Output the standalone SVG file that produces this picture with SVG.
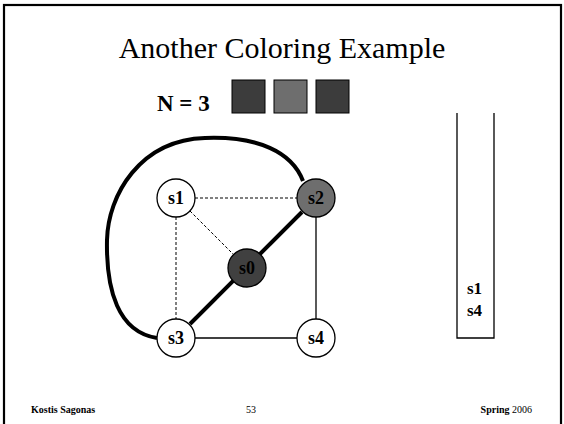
<svg xmlns="http://www.w3.org/2000/svg" width="564" height="424" viewBox="0 0 564 424">
<style>
text { font-family: "Liberation Serif", "Times New Roman", serif; }
.node circle { stroke: #000; stroke-width: 1.3; }
.node text { font-weight: bold; font-size: 18px; text-anchor: middle; }
.thin { stroke: #000; stroke-width: 1.3; fill: none; }
.dash { stroke: #000; stroke-width: 1; stroke-dasharray: 3 2; fill: none; }
.thick { stroke: #000; stroke-width: 4; fill: none; }
.sq { stroke: #000; stroke-width: 1; }
.foot { font-size: 10px; }
</style>
<rect x="0" y="0" width="564" height="424" fill="#fff"/>
<rect x="4" y="5" width="557" height="440" fill="none" stroke="#000" stroke-width="2.2"/>
<text x="282" y="58" font-size="30" text-anchor="middle">Another Coloring Example</text>
<text x="157" y="111" font-size="23" font-weight="bold">N = 3</text>
<rect class="sq" x="232" y="80" width="33" height="33" fill="#3c3c3c"/>
<rect class="sq" x="274" y="80" width="33" height="33" fill="#6e6e6e"/>
<rect class="sq" x="316" y="80" width="33" height="33" fill="#3c3c3c"/>
<g id="connectors">
<line class="dash" x1="195" y1="198" x2="297" y2="198"/>
<line class="dash" x1="190" y1="211" x2="233" y2="254"/>
<line class="dash" x1="176" y1="217" x2="176" y2="319"/>
<line class="thin" x1="316" y1="217" x2="316" y2="319"/>
<line class="thin" x1="195" y1="338" x2="297" y2="338"/>
<line class="thick" x1="302" y1="212" x2="190" y2="324"/>
<path class="thick" d="M157,338 C118,332 106,290 107,240 C108,195 140,140 205,138 C258,136 292,152 303,181"/>
</g>
<g id="s1" class="node"><circle cx="176" cy="198" r="19" fill="#fff"/><text x="176" y="204">s1</text></g>
<g id="s2" class="node"><circle cx="316" cy="198" r="19" fill="#6e6e6e"/><text x="316" y="204">s2</text></g>
<g id="s0" class="node"><circle cx="247" cy="268" r="19" fill="#404040"/><text x="247" y="274">s0</text></g>
<g id="s3" class="node"><circle cx="176" cy="338" r="19" fill="#fff"/><text x="176" y="344">s3</text></g>
<g id="s4" class="node"><circle cx="316" cy="338" r="19" fill="#fff"/><text x="316" y="344">s4</text></g>
<g id="stack">
<path class="thin" d="M457,113 V338 H494 V113"/>
<text x="467" y="294" font-size="17" font-weight="bold">s1</text>
<text x="467" y="316" font-size="17" font-weight="bold">s4</text>
</g>
<text class="foot" x="31" y="413" font-weight="bold">Kostis Sagonas</text>
<text class="foot" x="251" y="413" text-anchor="middle">53</text>
<text class="foot" x="532" y="413" text-anchor="end"><tspan font-weight="bold">Spring</tspan> 2006</text>
</svg>
